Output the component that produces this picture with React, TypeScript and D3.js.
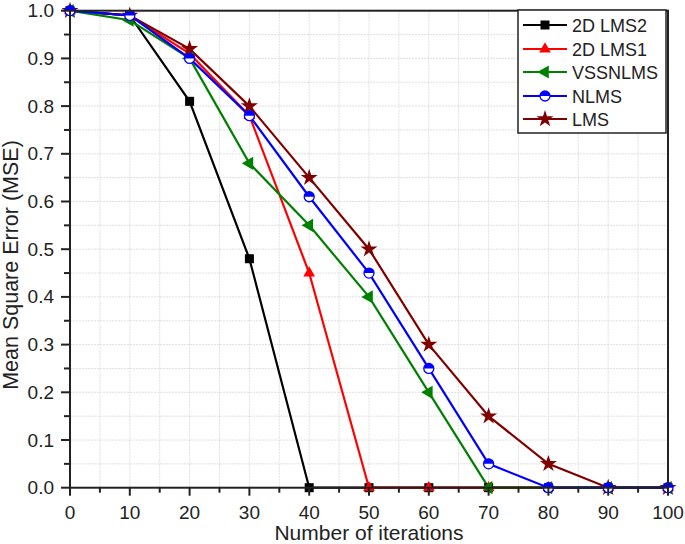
import React from "react";
import * as d3 from "d3";

const iterations = [0, 10, 20, 30, 40, 50, 60, 70, 80, 90, 100];
const lms2d2 = [1.0, 0.99, 0.81, 0.48, 0, 0, 0, 0, 0, 0, 0];
const lms2d1 = [1.0, 0.99, 0.91, 0.78, 0.45, 0, 0, 0, 0, 0, 0];
const vssnlms = [1.0, 0.98, 0.9, 0.68, 0.55, 0.4, 0.2, 0, 0, 0, 0];
const nlms = [1.0, 0.99, 0.9, 0.78, 0.61, 0.45, 0.25, 0.05, 0, 0, 0];
const lms = [1.0, 0.99, 0.92, 0.8, 0.65, 0.5, 0.3, 0.15, 0.05, 0, 0];

const xTicks = [0, 10, 20, 30, 40, 50, 60, 70, 80, 90, 100];
const yTicks = [0, 0.1, 0.2, 0.3, 0.4, 0.5, 0.6, 0.7, 0.8, 0.9, 1.0];

type Series = { name: string; values: number[]; color: string; marker: string };
const series: Series[] = [
  { name: "2D LMS2", values: lms2d2, color: "#000000", marker: "square" },
  { name: "2D LMS1", values: lms2d1, color: "#ff0000", marker: "triangle" },
  { name: "VSSNLMS", values: vssnlms, color: "#008000", marker: "left" },
  { name: "NLMS", values: nlms, color: "#0000ff", marker: "circle" },
  { name: "LMS", values: lms, color: "#800000", marker: "star" },
];
const drawOrder = [0, 1, 4, 2, 3];

const W = 685, H = 544;
const left = 70, right = 668, top = 10.7, bottom = 487.7;
const x = d3.scaleLinear().domain([0, 100]).range([left, right]);
const y = d3.scaleLinear().domain([0, 1]).range([bottom, top]);
const FONT = "Arial, 'Liberation Sans', sans-serif";

function Marker({ type, color, cx, cy }: { type: string; color: string; cx: number; cy: number }) {
  if (type === "square") return <rect x={cx - 4.5} y={cy - 4.5} width={9} height={9} fill={color} />;
  if (type === "triangle") {
    const p = d3.symbol().type(d3.symbolTriangle).size(60)();
    return <path d={p || ""} transform={`translate(${cx},${cy})`} fill={color} />;
  }
  if (type === "left") {
    const p = d3.symbol().type(d3.symbolTriangle).size(75)();
    return <path d={p || ""} transform={`translate(${cx},${cy}) rotate(-90)`} fill={color} />;
  }
  if (type === "circle") {
    const r = 5;
    return (
      <g transform={`translate(${cx},${cy})`}>
        <circle r={r} fill="#fff" stroke={color} strokeWidth={1.3} />
        <path d={`M${-r},0 A${r},${r} 0 0 1 ${r},0 Z`} fill={color} />
      </g>
    );
  }
  const p = d3.symbol().type(d3.symbolStar).size(90)();
  return <path d={p || ""} transform={`translate(${cx},${cy})`} fill={color} />;
}

export default function App() {
  const line = d3.line<number>().x((_, i) => x(iterations[i])).y((d) => y(d));
  const minorX = d3.range(5, 100, 10);
  const minorY = d3.range(0.05, 1, 0.1);
  const gridX = d3.range(5, 100, 5);
  const gridY = d3.range(0.05, 1, 0.05);
  const legendY = [25, 49, 72, 96, 119];
  return (
    <svg width={W} height={H} style={{ position: "absolute", left: 0, top: 0 }} fontFamily={FONT}>
      <rect x={0} y={0} width={W} height={H} fill="#fff" />
      {gridX.map((v) => (
        <line key={"gx" + v} x1={x(v)} x2={x(v)} y1={top} y2={bottom} stroke="#d8d8d8" strokeWidth={0.8} strokeDasharray="2,1" />
      ))}
      {gridY.map((v) => (
        <line key={"gy" + v} x1={left} x2={right} y1={y(v)} y2={y(v)} stroke="#d8d8d8" strokeWidth={0.8} strokeDasharray="2,1" />
      ))}
      {drawOrder.map((i) => {
        const s = series[i];
        return <path key={s.name} d={line(s.values) || ""} fill="none" stroke={s.color} strokeWidth={2.2} />;
      })}
      {drawOrder.map((i) => {
        const s = series[i];
        return (
          <g key={s.name + "m"}>
            {s.values.map((v, j) => (
              <Marker key={j} type={s.marker} color={s.color} cx={x(iterations[j])} cy={y(v)} />
            ))}
          </g>
        );
      })}
      <rect x={left} y={top} width={right - left} height={bottom - top} fill="none" stroke="#222" strokeWidth={2} />
      {xTicks.map((v) => (
        <g key={"xt" + v}>
          <line x1={x(v)} x2={x(v)} y1={bottom} y2={bottom + 8} stroke="#222" strokeWidth={2} />
          <text x={x(v)} y={519} textAnchor="middle" fontSize={19} fill="#222">{v}</text>
        </g>
      ))}
      {minorX.map((v) => (
        <line key={"mx" + v} x1={x(v)} x2={x(v)} y1={bottom} y2={bottom + 5} stroke="#222" strokeWidth={2} />
      ))}
      {yTicks.map((v) => (
        <g key={"yt" + v}>
          <line x1={left - 9} x2={left} y1={y(v)} y2={y(v)} stroke="#222" strokeWidth={2} />
          <text x={54} y={y(v) + 6.5} textAnchor="end" fontSize={19} fill="#222">{v.toFixed(1)}</text>
        </g>
      ))}
      {minorY.map((v) => (
        <line key={"my" + v} x1={left - 6} x2={left} y1={y(v)} y2={y(v)} stroke="#222" strokeWidth={2} />
      ))}
      <text x={369} y={540} textAnchor="middle" fontSize={21} fill="#222">Number of iterations</text>
      <text transform={`translate(18,265) rotate(-90)`} textAnchor="middle" fontSize={21.5} fill="#222">
        Mean Square Error (MSE)
      </text>
      <rect x={518} y={10} width={148} height={123} fill="#fff" stroke="#222" strokeWidth={1.5} />
      {series.map((s, i) => (
        <g key={"lg" + s.name}>
          <line x1={523} x2={567} y1={legendY[i]} y2={legendY[i]} stroke={s.color} strokeWidth={2} />
          <Marker type={s.marker} color={s.color} cx={545} cy={legendY[i]} />
          <text x={572} y={legendY[i] + 6.5} fontSize={18} fill="#222">{s.name}</text>
        </g>
      ))}
    </svg>
  );
}
